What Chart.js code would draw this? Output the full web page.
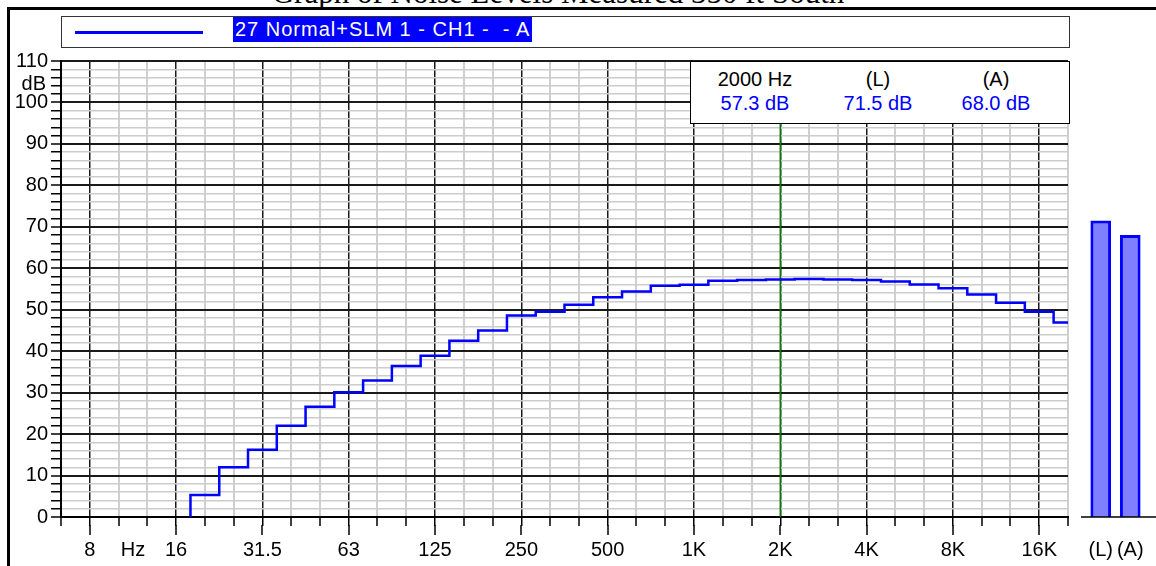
<!DOCTYPE html>
<html>
<head>
<meta charset="utf-8">
<title>Graph of Noise Levels Measured 350 ft South</title>
<script src="https://cdn.jsdelivr.net/npm/chart.js@4.4.1/dist/chart.umd.min.js"></script>
<style>
    html, body { margin: 0; padding: 0; background: #fff; }
    body { position: relative; width: 1156px; height: 566px; overflow: hidden; font-family: Arial, "Liberation Sans", sans-serif; color: #000; }
    .abs { position: absolute; }
    #frame { left: 7px; top: 7px; width: 1200px; height: 600px; border-left: 3px solid #000; border-top: 3px solid #000; }
    #title { left: 0; top: -23px; width: 1116px; text-align: center; font-family: "Liberation Serif", "Times New Roman", serif; font-size: 31px; line-height: 31px; white-space: nowrap; }
    #legend { left: 61px; top: 16px; width: 1009px; height: 32px; border: 1px solid #333; box-sizing: border-box; background: #fff; }
    #legend .swatch { position: absolute; left: 13px; top: 14px; width: 128px; height: 3px; background: #0000ff; }
    #legend .name { position: absolute; left: 171px; top: 0; height: 25px; line-height: 25px; background: #0000ff; color: #fff; font-size: 20px; letter-spacing: 1px; padding: 0 2px; white-space: pre; }
    #main { left: 0; top: 0; width: 1075px; height: 566px; }
    #totals { left: 1078px; top: 0; width: 78px; height: 566px; }
    #dbunit { left: 0; width: 46px; top: 71px; text-align: right; font-size: 20px; line-height: 24px; }
    #readout { left: 690px; top: 61px; width: 380px; height: 63px; border: 1.5px solid #000; box-sizing: border-box; background: #fff; font-size: 20px; }
    #readout div { position: absolute; width: 120px; text-align: center; line-height: 24px; }
    #readout .val { color: #0000ff; }
</style>
</head>
<body>
<div id="frame" class="abs"></div>
<div id="title" class="abs">Graph of Noise Levels Measured 350 ft South</div>

<div id="main" class="abs"><canvas id="spectrumChart"></canvas></div>
<div id="totals" class="abs"><canvas id="totalsChart"></canvas></div>

<div id="legend" class="abs">
    <div class="swatch"></div>
    <div class="name">27 Normal+SLM 1 - CH1 -  - A</div>
</div>
<div id="dbunit" class="abs">dB</div>
<div id="readout" class="abs">
    <div style="left:4px; top:5px;">2000 Hz</div>
    <div style="left:127px; top:5px;">(L)</div>
    <div style="left:245px; top:5px;">(A)</div>
    <div class="val" style="left:4px; top:29px;">57.3 dB</div>
    <div class="val" style="left:127px; top:29px;">71.5 dB</div>
    <div class="val" style="left:245px; top:29px;">68.0 dB</div>
</div>

<script>
// 1/3 octave band levels (dB), channel A
const bandHz = [16, 20, 25, 31.5, 40, 50, 63, 80, 100, 125, 160, 200, 250, 315, 400, 500, 630, 800,
    1000, 1250, 1600, 2000, 2500, 3150, 4000, 5000, 6300, 8000, 10000, 12500, 16000, 20000];
const bandDb = [-3, 5.3, 12.0, 16.2, 22.0, 26.6, 30.1, 32.9, 36.4, 38.9, 42.5, 45.0, 48.6, 49.5, 51.2, 53.0, 54.4, 55.8,
    56.0, 57.0, 57.2, 57.3, 57.4, 57.3, 57.2, 56.8, 56.1, 55.2, 53.7, 51.7, 49.5, 46.9];

// octave labels on the frequency axis
const octaveHz = [8, 16, 31.5, 63, 125, 250, 500, 1000, 2000, 4000, 8000, 16000];
const octaveLabels = ['8', '16', '31.5', '63', '125', '250', '500', '1K', '2K', '4K', '8K', '16K'];

// axis ranges and cursor position
const freqMinHz = 6.3;
const freqMaxHz = 20000;
const cursorHz = 2000;
const dbMin = 0;
const dbMax = 110;
const dbMinorStep = 2;
const dbMajorStep = 10;

// overall levels
const totalLabels = ['(L)', '(A)'];
const totalDb = [71.5, 68.0];

Chart.defaults.font.family = 'Arial, "Liberation Sans", sans-serif';
Chart.defaults.color = '#000';

// third-octave band number (1 kHz = 0)
function band(f) {
    return Math.round(3 * Math.log2(f / 1000));
}

const hzPos = (band(10) + band(12.5)) / 2;

function isOctave(v) {
    return octaveHz.some(f => band(f) === v);
}

function isMajorDb(v) {
    return v % dbMajorStep === 0;
}

// step line: each band is flat from its lower to its upper edge
const stepPoints = bandHz.map((f, i) => ({ x: band(f) - 0.5, y: bandDb[i] }));
stepPoints.push({ x: band(bandHz[bandHz.length - 1]) + 0.5, y: bandDb[bandDb.length - 1] });

// longer tick marks under the octave lines
const octaveTickPlugin = {
    id: 'octaveTicks',
    afterDraw(chart) {
        const xs = chart.scales.x;
        const b = chart.chartArea.bottom;
        const ctx = chart.ctx;
        ctx.save();
        ctx.strokeStyle = '#000';
        ctx.lineWidth = 1.5;
        octaveHz.forEach(f => {
            const px = Math.round(xs.getPixelForValue(band(f)));
            ctx.beginPath();
            ctx.moveTo(px, b + 8);
            ctx.lineTo(px, b + 18);
            ctx.stroke();
        });
        ctx.restore();
    }
};

new Chart(document.getElementById('spectrumChart'), {
    type: 'line',
    data: {
        datasets: [{
            data: stepPoints,
            borderColor: '#0000ff',
            borderWidth: 2.5,
            pointRadius: 0,
            stepped: 'before',
            fill: false
        }, {
            data: [{ x: band(cursorHz), y: dbMin }, { x: band(cursorHz), y: dbMax }],
            borderColor: '#008000',
            borderWidth: 1.5,
            pointRadius: 0,
            fill: false
        }]
    },
    options: {
        responsive: true,
        maintainAspectRatio: false,
        animation: false,
        layout: { padding: { top: 61, left: 0, right: 7, bottom: 0 } },
        plugins: { legend: { display: false }, tooltip: { enabled: false } },
        scales: {
            x: {
                type: 'linear',
                min: band(freqMinHz),
                max: band(freqMaxHz),
                afterBuildTicks(scale) {
                    const t = [];
                    for (let n = band(freqMinHz); n <= band(freqMaxHz); n++) t.push({ value: n });
                    t.push({ value: hzPos });
                    t.sort((a, b) => a.value - b.value);
                    scale.ticks = t;
                },
                afterFit(scale) {
                    scale.height = 49;
                    scale.paddingLeft = 0;
                    scale.paddingRight = 0;
                },
                ticks: {
                    autoSkip: false,
                    maxRotation: 0,
                    padding: 12,
                    font: { size: 20 },
                    callback(value) {
                        if (value === hzPos) return 'Hz';
                        const i = octaveHz.findIndex(f => band(f) === value);
                        return i >= 0 ? octaveLabels[i] : '';
                    }
                },
                grid: {
                    tickLength: 9,
                    color(c) {
                        const v = c.tick.value;
                        if (v === hzPos) return 'rgba(0,0,0,0)';
                        return isOctave(v) ? '#1a1a1a' : '#cfcfcf';
                    },
                    lineWidth(c) { return isOctave(c.tick.value) ? 1.5 : 2; },
                    tickColor(c) { return c.tick.value === hzPos ? 'rgba(0,0,0,0)' : '#000'; },
                    tickWidth: 1.5
                },
                border: { color: '#000', width: 2 }
            },
            y: {
                min: dbMin,
                max: dbMax,
                afterBuildTicks(scale) {
                    const t = [];
                    for (let v = dbMin; v <= dbMax; v += dbMinorStep) t.push({ value: v });
                    scale.ticks = t;
                },
                afterFit(scale) { scale.width = 61; },
                ticks: {
                    autoSkip: false,
                    padding: 3,
                    font: { size: 20 },
                    callback(value) { return isMajorDb(value) ? value : ''; }
                },
                grid: {
                    tickLength: 10,
                    color(c) { return isMajorDb(c.tick.value) ? '#1a1a1a' : '#cccccc'; },
                    lineWidth(c) { return isMajorDb(c.tick.value) ? 2 : 1.5; },
                    tickColor: '#000',
                    tickWidth: 1.5
                },
                border: { color: '#000', width: 2 }
            }
        }
    },
    plugins: [octaveTickPlugin]
});

// zero line under the overall level bars
const baselinePlugin = {
    id: 'baseline',
    afterDraw(chart) {
        const y = Math.round(chart.scales.y.getPixelForValue(0));
        const ctx = chart.ctx;
        ctx.save();
        ctx.strokeStyle = '#000';
        ctx.lineWidth = 1.5;
        ctx.beginPath();
        ctx.moveTo(3, y);
        ctx.lineTo(chart.width, y);
        ctx.stroke();
        ctx.restore();
    }
};

new Chart(document.getElementById('totalsChart'), {
    type: 'bar',
    data: {
        labels: totalLabels,
        datasets: [{
            data: totalDb,
            backgroundColor: 'rgba(0,0,255,0.5)',
            borderColor: '#0000ff',
            borderWidth: 3,
            barPercentage: 0.7,
            categoryPercentage: 1
        }]
    },
    options: {
        responsive: true,
        maintainAspectRatio: false,
        animation: false,
        layout: { padding: { top: 61, left: 8, right: 11, bottom: 0 } },
        plugins: { legend: { display: false }, tooltip: { enabled: false } },
        scales: {
            x: {
                afterFit(scale) {
                    scale.height = 49;
                    scale.paddingLeft = 0;
                    scale.paddingRight = 0;
                },
                grid: { display: false, drawTicks: true, tickLength: 21 },
                border: { display: false },
                ticks: { padding: 0, autoSkip: false, minRotation: 0, maxRotation: 0, font: { size: 20 } }
            },
            y: { display: false, min: dbMin, max: dbMax }
        }
    },
    plugins: [baselinePlugin]
});
</script>
</body>
</html>
